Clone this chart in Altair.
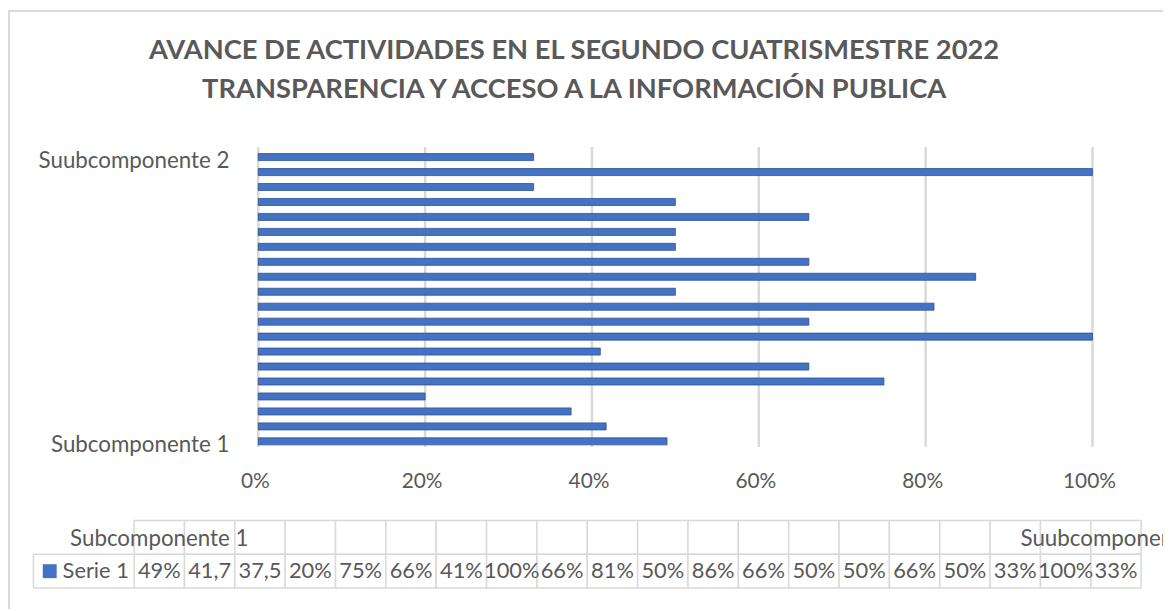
import altair as alt
import pandas as pd

# ---------------- data ----------------
title_lines = [
    "AVANCE DE ACTIVIDADES EN EL SEGUNDO CUATRISMESTRE 2022",
    "TRANSPARENCIA Y ACCESO A LA INFORMACIÓN PUBLICA",
]
series_name = "Serie 1"
category_ids = [str(i) for i in range(1, 21)]
values = [0.49, 0.417, 0.375, 0.20, 0.75, 0.66, 0.41, 1.00, 0.66, 0.81,
          0.50, 0.86, 0.66, 0.50, 0.50, 0.66, 0.50, 0.33, 1.00, 0.33]
value_labels = ["49%", "41,7", "37,5", "20%", "75%", "66%", "41%", "100%", "66%", "81%",
                "50%", "86%", "66%", "50%", "50%", "66%", "50%", "33%", "100%", "33%"]
axis_labels = ["Subcomponente 1", "Suubcomponente 2"]
axis_label_ids = ["1", "20"]
header_labels = ["Subcomponente 1", "Suubcomponente 2"]
header_cols = [1, 20]
x_ticks = [0, 0.2, 0.4, 0.6, 0.8, 1.0]

# ---------------- style ----------------
FONT = "Lato"
TXT = "#595959"
BLUE = "#4472C4"
GRID = "#D9D9D9"
W, H = 1163, 603

bars_df = pd.DataFrame({"cat": category_ids, "v": values})
ticks_df = pd.DataFrame({"t": x_ticks})
ylab_df = pd.DataFrame({"cat": axis_label_ids, "lab": axis_labels})

x_bar = alt.Scale(domain=[0, 1], range=[252, 1092], nice=False, zero=False)
y_bar = alt.Scale(domain=category_ids[::-1], range=[140.5, 441.8],
                  paddingInner=0.53, paddingOuter=0.265)

grid = alt.Chart(ticks_df).mark_rule(color=GRID, strokeWidth=2.5).encode(
    x=alt.X("t:Q", scale=x_bar, axis=None),
    y=alt.value(138), y2=alt.value(440),
)
bars = alt.Chart(bars_df).mark_bar(color=BLUE, stroke="#2F528F", strokeWidth=0.8).encode(
    x=alt.X("v:Q", scale=x_bar, axis=None),
    y=alt.Y("cat:N", scale=y_bar, axis=None, sort=None),
)
xlabels = alt.Chart(ticks_df).mark_text(
    font=FONT, fontSize=21, color=TXT, baseline="middle", dx=-3
).encode(
    x=alt.X("t:Q", scale=x_bar, axis=None),
    y=alt.value(475),
    text=alt.Text("t:Q", format=".0%"),
)
ylabels = alt.Chart(ylab_df).mark_text(
    font=FONT, fontSize=22.5, color=TXT, baseline="middle", align="right", dy=4
).encode(
    x=alt.value(223),
    y=alt.Y("cat:N", scale=y_bar, axis=None, sort=None),
    text="lab:N",
)
bar_part = alt.layer(grid, bars, xlabels, ylabels)

# ---------------- data table ----------------
cell_rows = []
for k in range(1, 21):
    cell_rows.append({"x0": k - 1, "x1": k, "r0": 0, "r1": 1})
    cell_rows.append({"x0": k - 1, "x1": k, "r0": 1, "r1": 2})
cell_rows.append({"x0": -2, "x1": 0, "r0": 1, "r1": 2})
cells_df = pd.DataFrame(cell_rows)
vals_df = pd.DataFrame({"c": [k - 0.5 for k in range(1, 21)], "lab": value_labels, "r": 1.5})
head_df = pd.DataFrame({"c": [k - 0.5 for k in header_cols], "lab": header_labels, "r": 0.5})
leg_df = pd.DataFrame({"lab": [series_name], "r": [1.5]})

x_tab = alt.Scale(domain=[0, 20], range=[127, 1141], nice=False, zero=False)
y_tab = alt.Scale(domain=[0, 2], range=[514, 582], nice=False, zero=False)

cells = alt.Chart(cells_df).mark_rect(fill="white", stroke=GRID, strokeWidth=1.5).encode(
    x=alt.X("x0:Q", scale=x_tab, axis=None), x2="x1:Q",
    y=alt.Y("r0:Q", scale=y_tab, axis=None), y2="r1:Q",
)
vals = alt.Chart(vals_df).mark_text(font=FONT, fontSize=22, color=TXT, baseline="middle").encode(
    x=alt.X("c:Q", scale=x_tab, axis=None),
    y=alt.Y("r:Q", scale=y_tab, axis=None),
    text="lab:N",
)
heads = alt.Chart(head_df).mark_text(font=FONT, fontSize=22.5, color=TXT, baseline="middle",
                                     dy=2).encode(
    x=alt.X("c:Q", scale=x_tab, axis=None),
    y=alt.Y("r:Q", scale=y_tab, axis=None),
    text="lab:N",
)
swatch = alt.Chart(leg_df).mark_square(size=196, color=BLUE, opacity=1).encode(
    x=alt.value(42),
    y=alt.Y("r:Q", scale=y_tab, axis=None),
)
legtext = alt.Chart(leg_df).mark_text(font=FONT, fontSize=22, color=TXT, baseline="middle",
                                       align="left").encode(
    x=alt.value(55),
    y=alt.Y("r:Q", scale=y_tab, axis=None),
    text="lab:N",
)
table_part = alt.layer(cells, vals, heads, swatch, legtext)

# ---------------- title & frame ----------------
one = pd.DataFrame({"d": [0]})
title = alt.Chart(one).mark_text(
    font=FONT, fontSize=27.5, fontWeight="bold", color=TXT, align="center",
    baseline="alphabetic", lineHeight=40, text=title_lines,
).encode(x=alt.value(570), y=alt.value(49))
frame_left = alt.Chart(one).mark_rule(color=GRID, strokeWidth=2).encode(
    x=alt.value(1), y=alt.value(0), y2=alt.value(H))
frame_top = alt.Chart(one).mark_rule(color=GRID, strokeWidth=2).encode(
    x=alt.value(0), x2=alt.value(W), y=alt.value(1))

chart = alt.layer(frame_left, frame_top, title, bar_part, table_part).resolve_scale(
    x="independent", y="independent"
).properties(
    width=W, height=H, padding=0, autosize=alt.AutoSizeParams(type="none"),
    background="white",
).configure_view(stroke=None)

chart.save("out.html", embed_options={"renderer": "svg", "actions": False})
